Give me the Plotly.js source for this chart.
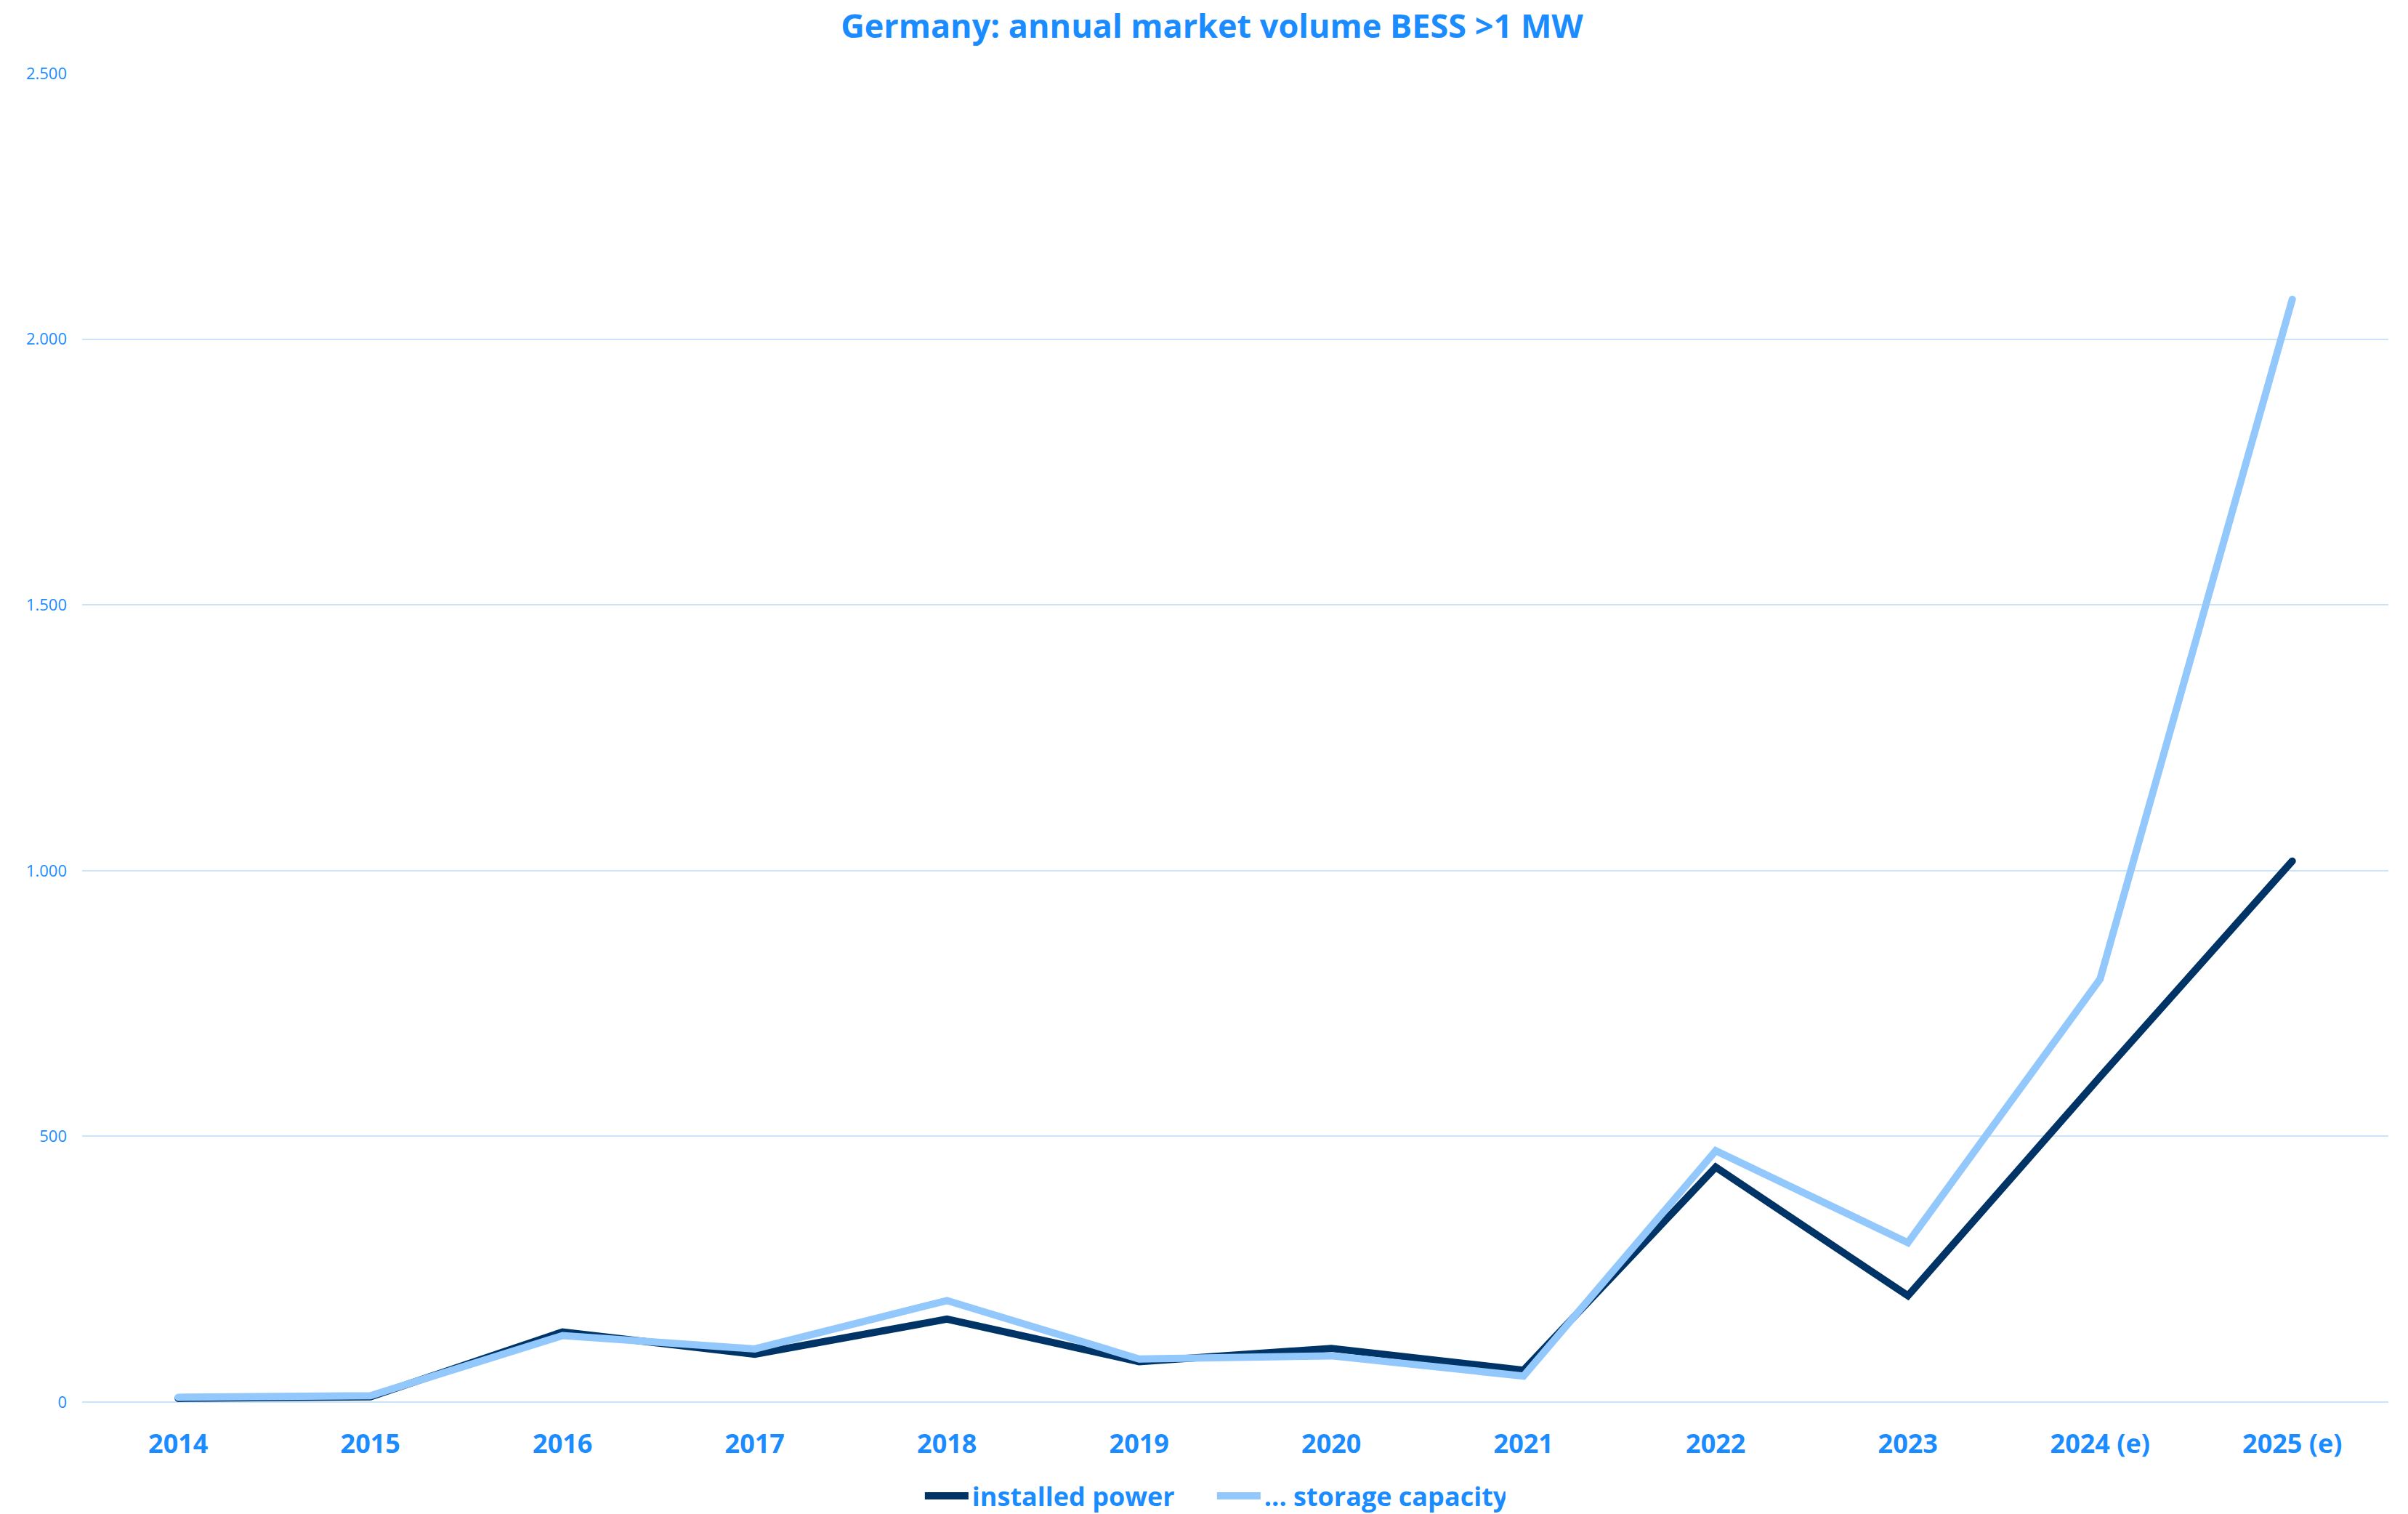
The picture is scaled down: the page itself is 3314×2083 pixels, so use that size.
<!DOCTYPE html>
<html>
<head>
<meta charset="utf-8">
<script src="https://cdn.plot.ly/plotly-3.0.1.min.js"></script>
<style>html,body{margin:0;padding:0;background:#fff;}#chart{width:3314px;height:2083px;}
.scatterlayer .js-line{stroke-linecap:round !important;}</style>
</head>
<body>
<div id="chart"></div>
<script>
const years = ["2014","2015","2016","2017","2018","2019","2020","2021","2022","2023","2024 (e)","2025 (e)"];
const installedPower = [7, 10, 132, 90, 156, 76, 101, 60, 442, 200, 612, 1018];
const storageCapacity = [9, 12, 125, 100, 191, 81, 87, 49, 473, 300, 796, 2075];
const yTicks = [0, 500, 1000, 1500, 2000, 2500];

const textColor = '#1a8cff';
const traces = [
  {x: years, y: installedPower, type: 'scatter', mode: 'lines', name: 'installed power',
   line: {color: '#003466', width: 10}},
  {x: years, y: storageCapacity, type: 'scatter', mode: 'lines', name: '... storage capacity',
   line: {color: '#93c8fd', width: 10}}
];
const layout = {
  width: 3314, height: 2083,
  paper_bgcolor: '#ffffff', plot_bgcolor: '#ffffff',
  separators: ',.',
  margin: {l: 113, r: 27, t: 101, b: 154, autoexpand: false},
  font: {family: 'Open Sans, sans-serif', color: textColor},
  title: {text: '<b>Germany: annual market volume BESS >1 MW</b>', font: {size: 45, color: textColor, family: 'Open Sans, sans-serif'},
          x: 1668/3314, xref: 'container', xanchor: 'center', y: 1 - 36/2083, yref: 'container', yanchor: 'middle'},
  xaxis: {type: 'category', range: [-0.5, 11.5], showgrid: false, zeroline: false, showline: false,
          ticks: '', tickfont: {size: 36, color: textColor, family: 'Open Sans, sans-serif', weight: 'bold'},
          ticklabelstandoff: 33, fixedrange: true},
  yaxis: {range: [0, 2500], tickvals: yTicks, tickformat: ',d', showgrid: true, gridcolor: '#c9e3fa', gridwidth: 2,
          zeroline: true, zerolinecolor: '#c9e3fa', zerolinewidth: 2, showline: false, ticks: '',
          tickfont: {size: 22, color: textColor, family: 'Open Sans, sans-serif'}, ticklabelstandoff: 20, fixedrange: true},
  showlegend: true,
  legend: {orientation: 'h', x: 0.4905, xanchor: 'center', y: -0.0706, yanchor: 'middle',
           font: {size: 36, color: textColor, family: 'Open Sans, sans-serif', weight: 'bold'},
           itemwidth: 60, entrywidth: 327, bgcolor: 'rgba(0,0,0,0)'}
};
Plotly.newPlot('chart', traces, layout, {staticPlot: true, displayModeBar: false});
</script>
</body>
</html>
